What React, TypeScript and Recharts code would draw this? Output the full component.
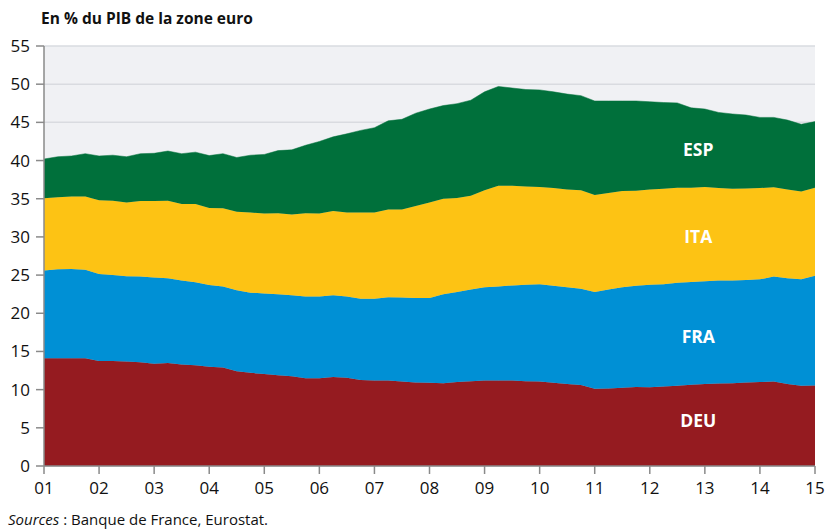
import React from 'react';
import { AreaChart, Area, XAxis, YAxis, CartesianGrid, ReferenceDot } from 'recharts';

const years = [2001, 2002, 2003, 2004, 2005, 2006, 2007, 2008, 2009, 2010, 2011, 2012, 2013, 2014, 2015];
const yearLabels = ['01', '02', '03', '04', '05', '06', '07', '08', '09', '10', '11', '12', '13', '14', '15'];
const yTicks = [0, 5, 10, 15, 20, 25, 30, 35, 40, 45, 50, 55];

// Quarterly shares of euro-area GDP, 2001Q1 .. 2015Q1
const deu = [14.1, 14.1, 14.1, 14.1, 13.75, 13.75, 13.7, 13.6, 13.4, 13.5, 13.3, 13.2, 13.0, 12.9, 12.4, 12.2, 12.05, 11.9, 11.75, 11.5, 11.5, 11.65, 11.57, 11.25, 11.2, 11.2, 11.05, 10.95, 10.9, 10.85, 11.0, 11.1, 11.2, 11.2, 11.2, 11.1, 11.05, 10.9, 10.75, 10.6, 10.1, 10.15, 10.25, 10.35, 10.3, 10.4, 10.5, 10.65, 10.75, 10.8, 10.85, 10.95, 11.0, 11.05, 10.75, 10.5, 10.55];
const fra = [11.5, 11.65, 11.7, 11.6, 11.4, 11.25, 11.15, 11.2, 11.3, 11.1, 11.0, 10.85, 10.7, 10.6, 10.6, 10.5, 10.55, 10.6, 10.6, 10.7, 10.7, 10.7, 10.63, 10.65, 10.7, 10.9, 11.0, 11.05, 11.1, 11.65, 11.8, 12.0, 12.2, 12.3, 12.45, 12.65, 12.75, 12.7, 12.65, 12.6, 12.7, 12.95, 13.15, 13.25, 13.45, 13.4, 13.5, 13.45, 13.45, 13.5, 13.45, 13.4, 13.45, 13.75, 13.85, 13.95, 14.35];
const ita = [9.46, 9.45, 9.5, 9.6, 9.65, 9.75, 9.65, 9.9, 10.0, 10.15, 10.0, 10.25, 10.1, 10.25, 10.3, 10.5, 10.45, 10.6, 10.6, 10.9, 10.85, 11.05, 11.0, 11.3, 11.3, 11.5, 11.55, 12.05, 12.5, 12.5, 12.3, 12.3, 12.7, 13.2, 13.05, 12.85, 12.75, 12.8, 12.8, 12.9, 12.7, 12.65, 12.6, 12.45, 12.45, 12.5, 12.45, 12.35, 12.35, 12.1, 12.0, 12.0, 11.95, 11.7, 11.6, 11.5, 11.55];
const esp = [5.14, 5.3, 5.3, 5.6, 5.8, 5.95, 6.0, 6.2, 6.25, 6.5, 6.6, 6.8, 6.85, 7.15, 7.1, 7.5, 7.75, 8.2, 8.45, 8.9, 9.45, 9.7, 10.3, 10.75, 11.1, 11.6, 11.8, 12.15, 12.25, 12.2, 12.35, 12.5, 12.9, 13.0, 12.8, 12.7, 12.7, 12.6, 12.5, 12.4, 12.3, 12.05, 11.8, 11.75, 11.5, 11.3, 11.1, 10.45, 10.2, 9.9, 9.8, 9.61, 9.25, 9.15, 9.1, 8.8, 8.65];

const seriesNames = ['DEU', 'FRA', 'ITA', 'ESP'];
const seriesColors = ['#951B20', '#0090D5', '#FDC314', '#00703B'];
const labelPos = [
  { name: 'DEU', t: 2012.88, v: 5.9 },
  { name: 'FRA', t: 2012.88, v: 16.9 },
  { name: 'ITA', t: 2012.88, v: 30.0 },
  { name: 'ESP', t: 2012.88, v: 41.4 },
];

const data = deu.map((d, i) => ({
  t: years[0] + i / 4,
  DEU: d,
  FRA: fra[i],
  ITA: ita[i],
  ESP: esp[i],
}));

const FONT = '"Open Sans", "Noto Sans", sans-serif';

export default function App() {
  return (
    <div style={{ position: 'absolute', left: 0, top: 0, width: 827, height: 530, background: '#fff', fontFamily: FONT }}>
      <div style={{ position: 'absolute', left: 41, top: 8, fontSize: 15.5, fontWeight: 700, color: '#111', lineHeight: '20px', whiteSpace: 'nowrap' }}>
        En % du PIB de la zone euro
      </div>
      <AreaChart
        width={827}
        height={530}
        data={data}
        margin={{ top: 46, right: 12, bottom: 34, left: 0 }}
      >
        <CartesianGrid horizontal={true} vertical={false} fill="#F0F1F4" stroke="#D9DBE0" strokeWidth={1.5} />
        <XAxis
          dataKey="t"
          type="number"
          domain={[years[0], years[years.length - 1]]}
          ticks={years}
          tickFormatter={(v: number) => yearLabels[years.indexOf(v)] ?? ''}
          height={30}
          tickSize={8}
          tickMargin={8}
          stroke="#8A8A8A"
          strokeWidth={1.5}
          tick={{ fill: '#111', fontSize: 17, fontFamily: FONT }}
          interval={0}
        />
        <YAxis
          type="number"
          domain={[0, 55]}
          ticks={yTicks}
          width={44}
          tickSize={8}
          tickMargin={6}
          stroke="#8A8A8A"
          strokeWidth={1.5}
          tick={{ fill: '#111', fontSize: 17, fontFamily: FONT }}
          interval={0}
        />
        {seriesNames.map((n, k) => (
          <Area
            key={n}
            type="linear"
            dataKey={n}
            stackId="1"
            stroke={seriesColors[k]}
            strokeWidth={0.5}
            fill={seriesColors[k]}
            fillOpacity={1}
            isAnimationActive={false}
            dot={false}
            activeDot={false}
          />
        ))}
        {labelPos.map((l) => (
          <ReferenceDot
            key={l.name}
            x={l.t}
            y={l.v}
            r={0}
            fill="none"
            stroke="none"
            label={{ value: l.name, position: 'center', fill: '#fff', fontSize: 17.5, fontWeight: 700, fontFamily: FONT }}
          />
        ))}
      </AreaChart>
      <div style={{ position: 'absolute', left: 8, top: 509, fontSize: 15, color: '#111', lineHeight: '20px', whiteSpace: 'nowrap' }}>
        <i>Sources</i> : Banque de France, Eurostat.
      </div>
    </div>
  );
}
